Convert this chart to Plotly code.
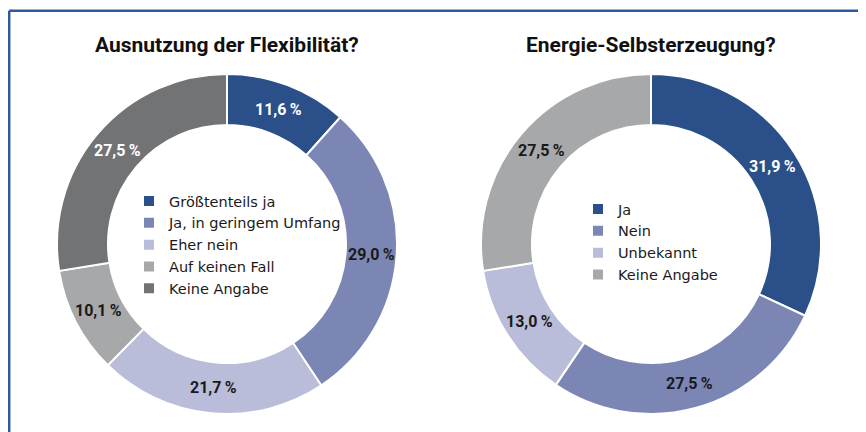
import math
import plotly.graph_objects as go

# ---- data ----
title1 = "Ausnutzung der Flexibilität?"
labels1 = ["Größtenteils ja", "Ja, in geringem Umfang", "Eher nein", "Auf keinen Fall", "Keine Angabe"]
values1 = [11.6, 29.0, 21.7, 10.1, 27.5]

title2 = "Energie-Selbsterzeugung?"
labels2 = ["Ja", "Nein", "Unbekannt", "Keine Angabe"]
values2 = [31.9, 27.5, 13.0, 27.5]

# ---- style ----
colors1 = ["#2b5089", "#7b86b4", "#babdd9", "#a6a8aa", "#727375"]
textcol1 = ["white", "#1a1a1a", "#1a1a1a", "#1a1a1a", "white"]
colors2 = ["#2b5089", "#7b86b4", "#babdd9", "#a6a8aa"]
textcol2 = ["white", "#1a1a1a", "#1a1a1a", "#1a1a1a"]

OFF = 8              # page body margin of the browser
W, H = 858, 424      # figure size so that it fits the 866x432 window
HOLE = 0.7
NUMFONT = "Roboto, Liberation Sans, sans-serif"
LEGFONT = "DejaVu Sans, sans-serif"


def fmt(v):
    return f"{v:.1f}".replace(".", ",") + "\u2009%"


def px(x):
    return (x - OFF) / W


def py(y):
    return 1 - (y - OFF) / H


# pie geometry in screen pixels: centre and outer radius
pies = [
    dict(cx=227, cy=244, r=170, labels=labels1, values=values1, colors=colors1,
         textcol=textcol1, title=title1, legend="legend", group="g1"),
    dict(cx=651, cy=244, r=170, labels=labels2, values=values2, colors=colors2,
         textcol=textcol2, title=title2, legend="legend2", group="g2"),
]

fig = go.Figure()
annotations = []

for p in pies:
    cx, cy, r = p["cx"], p["cy"], p["r"]
    fig.add_trace(go.Pie(
        labels=p["labels"], values=p["values"], sort=False, direction="clockwise",
        rotation=0, hole=HOLE,
        marker=dict(colors=p["colors"], line=dict(color="white", width=2)),
        textinfo="none", hoverinfo="label+percent",
        domain=dict(x=[px(cx - r), px(cx + r)], y=[py(cy + r), py(cy - r)]),
        legend=p["legend"], legendgroup=p["group"], showlegend=True,
    ))
    # value labels placed in the middle of each ring segment
    total = sum(p["values"])
    rmid = r * (1 + HOLE) / 2
    cum = 0.0
    for v, col in zip(p["values"], p["textcol"]):
        ang = 2 * math.pi * (cum + v / 2) / total
        cum += v
        annotations.append(dict(
            text=f"<b>{fmt(v)}</b>", x=px(cx + rmid * math.sin(ang)),
            y=py(cy - rmid * math.cos(ang)), xref="paper", yref="paper",
            showarrow=False, xanchor="center", yanchor="middle",
            font=dict(family=NUMFONT, size=16, color=col)))
    annotations.append(dict(
        text=f"<b>{p['title']}</b>", x=px(cx), y=py(45), xref="paper", yref="paper",
        showarrow=False, xanchor="center", yanchor="middle",
        font=dict(family=NUMFONT, size=21, color="#111111")))

legend_common = dict(
    xanchor="left", yanchor="top", bgcolor="rgba(0,0,0,0)",
    font=dict(family=LEGFONT, size=14.5, color="#1a1a1a"),
    itemclick=False, itemdoubleclick=False, tracegroupgap=0,
)

FRAME = "#2c5a9c"
fig.update_layout(
    width=W, height=H,
    margin=dict(l=0, r=0, t=0, b=0),
    paper_bgcolor="white", plot_bgcolor="white",
    legend=dict(x=px(129), y=py(185), **legend_common),
    legend2=dict(x=px(578), y=py(193), **legend_common),
    annotations=annotations,
    shapes=[
        dict(type="line", xref="paper", yref="paper", x0=px(9.2), x1=1.0,
             y0=py(10.8), y1=py(10.8), line=dict(color=FRAME, width=2.5)),
        dict(type="line", xref="paper", yref="paper", x0=px(9.2), x1=px(9.2),
             y0=py(10.8), y1=0.0, line=dict(color=FRAME, width=2.5)),
    ],
)

fig.write_html("out.html")
